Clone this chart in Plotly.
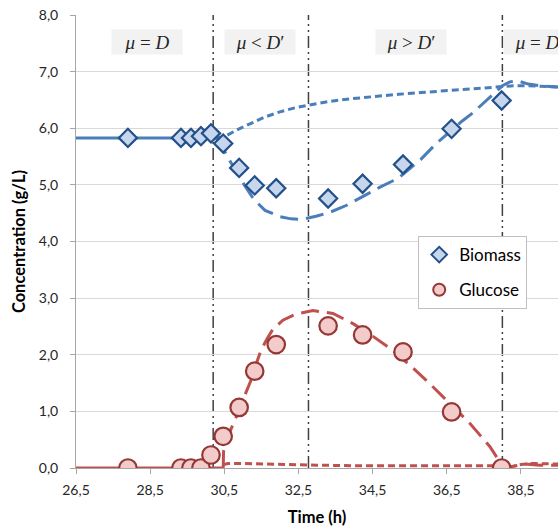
import plotly.graph_objects as go

# Sampling times (h) and measured concentrations (g/L)
time_h = [27.9, 29.33, 29.6, 29.87, 30.14, 30.47, 30.9, 31.32, 31.9, 33.3, 34.23, 35.32, 36.63, 37.98]
biomass = [5.83, 5.83, 5.83, 5.86, 5.91, 5.73, 5.30, 4.99, 4.94, 4.76, 5.02, 5.36, 5.99, 6.49]
glucose = [0.0, 0.0, 0.0, 0.0, 0.23, 0.56, 1.07, 1.71, 2.18, 2.51, 2.35, 2.05, 0.99, 0.0]

# Steady-state model before the shift
steady_t = [26.5, 30.3]
steady_biomass = [5.83, 5.83]
steady_glucose_t = [26.5, 30.47]
steady_glucose = [0.0, 0.0]

# Model prediction A (long dash)
model_a_t = [30.3, 30.5, 30.7, 30.9, 31.1, 31.3, 31.6, 32.0, 32.3, 32.6, 33.0, 33.4, 33.8, 34.2,
             34.7, 35.2, 35.8, 36.2, 36.6, 36.9, 37.2, 37.5, 37.8, 38.0, 38.2, 38.4, 38.7, 39.0, 39.5]
model_a_biomass = [5.83, 5.61, 5.37, 5.14, 4.93, 4.74, 4.55, 4.44, 4.40, 4.39, 4.45, 4.53, 4.64, 4.78,
                   4.96, 5.12, 5.45, 5.72, 5.95, 6.12, 6.27, 6.45, 6.63, 6.75, 6.82, 6.84, 6.78, 6.75, 6.73]
model_a_glc_t = [30.47, 30.48, 30.59, 30.75, 30.9, 31.05, 31.22, 31.35, 31.49, 31.65, 31.8, 32.08, 32.44,
                 32.89, 33.43, 33.97, 34.5, 35.0, 35.5, 36.04, 36.6, 37.12, 37.66, 38.02, 38.3, 38.6, 39.0, 39.5]
model_a_glucose = [0.0, 0.3, 0.55, 0.78, 1.02, 1.28, 1.55, 1.82, 2.08, 2.28, 2.44, 2.61, 2.72,
                   2.78, 2.73, 2.55, 2.33, 2.10, 1.82, 1.49, 1.13, 0.79, 0.38, 0.02, 0.03, 0.07, 0.05, 0.05]

# Model prediction B (short dash)
model_b_t = [30.3, 30.5, 30.9, 31.3, 31.6, 32.0, 32.4, 32.8, 33.3, 33.9, 34.5, 35.2, 35.8, 36.5,
             37.2, 37.9, 38.3, 38.7, 39.0, 39.5]
model_b_biomass = [5.83, 5.85, 5.99, 6.11, 6.20, 6.29, 6.36, 6.41, 6.47, 6.52, 6.56, 6.60, 6.63, 6.66,
                   6.69, 6.72, 6.75, 6.75, 6.74, 6.73]
model_b_glc_t = [30.47, 30.6, 31.0, 31.5, 32.0, 33.0, 34.0, 35.0, 36.0, 37.0, 38.0, 38.2, 38.5, 38.8, 39.2, 39.5]
model_b_glucose = [0.06, 0.08, 0.08, 0.07, 0.06, 0.05, 0.04, 0.04, 0.04, 0.04, 0.04, 0.02, 0.06, 0.08, 0.07, 0.07]

# Phase boundaries and labels
phase_bounds = [30.2, 32.77, 38.0]
phase_label_t = [28.42, 31.47, 35.53, 38.98]
phase_labels = ["<i>μ</i> = <i>D</i>", "<i>μ</i> &lt; <i>D</i>′", "<i>μ</i> &gt; <i>D</i>′", "<i>μ</i> = <i>D</i>′"]

BLUE = "#4a7ebb"
RED = "#c0504d"
LONG_DASH = "18px,8px"
SHORT_DASH = "7px,4px"

fig = go.Figure()

def line(x, y, color, dash):
    fig.add_trace(go.Scatter(x=x, y=y, mode="lines", showlegend=False, hoverinfo="skip",
                             line=dict(color=color, width=3, dash=dash)))

line(steady_t, steady_biomass, BLUE, "solid")
line(model_b_t, model_b_biomass, BLUE, SHORT_DASH)
line(model_a_t, model_a_biomass, BLUE, LONG_DASH)
line(steady_glucose_t, steady_glucose, RED, "solid")
line(model_b_glc_t, model_b_glucose, RED, SHORT_DASH)
line(model_a_glc_t, model_a_glucose, RED, LONG_DASH)

fig.add_trace(go.Scatter(
    x=time_h, y=biomass, mode="markers", name="Biomass", legendgroup="b",
    marker=dict(symbol="diamond", size=14, color="#c6d6ec", line=dict(color="#24508a", width=2.2)),
))
fig.add_trace(go.Scatter(
    x=time_h, y=glucose, mode="markers", name="Glucose", legendgroup="g",
    marker=dict(symbol="circle", size=17.5, color="#f2cbca", line=dict(color="#953735", width=2.2)),
))

for xb in phase_bounds:
    fig.add_shape(type="line", xref="x", yref="y", x0=xb, x1=xb, y0=0, y1=8,
                  line=dict(color="#404040", width=1.5, dash="12px,4px,2px,4px,2px,4px"), layer="below")

for xt, txt in zip(phase_label_t, phase_labels):
    fig.add_annotation(x=xt, y=7.53, xref="x", yref="y", text=txt, showarrow=False,
                       font=dict(family="Liberation Serif", size=19, color="#262626"),
                       bgcolor="#f2f2f2", width=68, height=22)

axis_font = dict(family="Lato", size=14, color="#262626")
title_font = dict(family="Lato", size=16.5, color="#000000")

fig.update_layout(
    width=558, height=529,
    margin=dict(l=76, r=0, t=15, b=61),
    paper_bgcolor="white", plot_bgcolor="white",
    separators=",.",
    showlegend=True,
    legend=dict(x=0.71, y=0.512, xanchor="left", yanchor="top",
                bgcolor="white", bordercolor="#bfbfbf", borderwidth=1,
                font=dict(family="Lato", size=17, color="#000000"),
                itemsizing="constant",
                tracegroupgap=10, traceorder="grouped"),
    xaxis=dict(range=[26.5, 39.5], tick0=26.5, dtick=2, tickformat=".1f",
               showgrid=False, showline=True, linecolor="#a6a6a6", linewidth=1,
               ticks="outside", ticklen=5, tickcolor="#a6a6a6", ticklabelstandoff=4,
               tickfont=axis_font, zeroline=False,
               title=dict(text="<b>Time (h)</b>", font=title_font, standoff=14)),
    yaxis=dict(range=[0, 8], tick0=0, dtick=1, tickformat=".1f",
               showgrid=True, gridcolor="#d9d9d9", gridwidth=1,
               showline=True, linecolor="#a6a6a6", linewidth=1,
               ticks="outside", ticklen=5, tickcolor="#a6a6a6", ticklabelstandoff=9,
               tickfont=axis_font, zeroline=False,
               title=dict(text="<b>Concentration (g/L)</b>", font=title_font, standoff=9)),
)

fig.write_html("out.html")
